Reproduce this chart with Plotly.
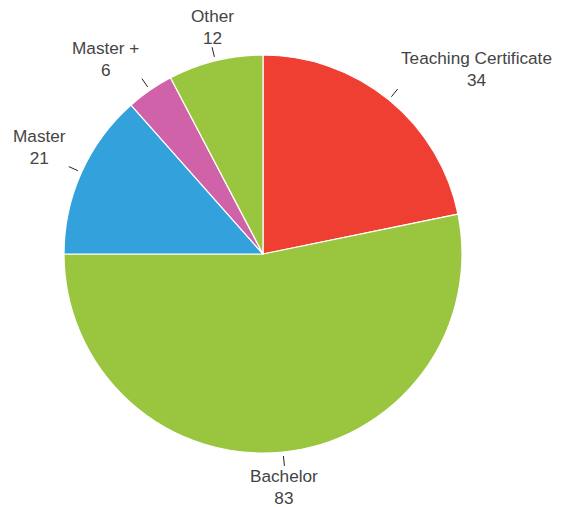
import math
import plotly.graph_objects as go

labels = ["Teaching Certificate", "Bachelor", "Master", "Master +", "Other"]
values = [34, 83, 21, 6, 12]
colors = ["#EF3F33", "#9AC63F", "#33A2DC", "#CF62A8", "#9AC63F"]

W, H = 578, 507
cx, cy, R = 263, 254, 199

fig = go.Figure(go.Pie(
    labels=labels, values=values, sort=False, direction="clockwise", rotation=0,
    marker=dict(colors=colors, line=dict(color="white", width=1.2)),
    textinfo="none", hoverinfo="label+value",
    domain=dict(x=[(cx - R) / W, (cx + R) / W], y=[1 - (cy + R) / H, 1 - (cy - R) / H]),
    showlegend=False,
))

total = sum(values)
cum = 0
shapes, annotations = [], []
for lab, v in zip(labels, values):
    mid = (cum + v / 2) / total * 2 * math.pi
    cum += v
    s, c = math.sin(mid), math.cos(mid)
    x0, y0 = cx + (R + 4) * s, cy - (R + 4) * c
    x1, y1 = cx + (R + 14) * s, cy - (R + 14) * c
    shapes.append(dict(type="line", xref="paper", yref="paper",
                       x0=x0 / W, y0=1 - y0 / H, x1=x1 / W, y1=1 - y1 / H,
                       line=dict(color="#222", width=1)))
    if abs(s) < 0.35:
        xa = "center"
    elif s > 0:
        xa = "left"
    else:
        xa = "right"
    ya = "bottom" if c > 0 else "top"
    annotations.append(dict(x=x1 / W, y=1 - y1 / H, xref="paper", yref="paper",
                            text=f"{lab}<br>{v}", showarrow=False, xanchor=xa, yanchor=ya,
                            align="center", xshift=(1 if xa == "left" else -1 if xa == "right" else 0),
                            yshift=(-3 if ya == "bottom" else 2),
                            font=dict(family="Arial, Liberation Sans, sans-serif", size=17.2, color="#444")))

fig.update_layout(width=W, height=H, margin=dict(l=0, r=0, t=0, b=0),
                  paper_bgcolor="white", plot_bgcolor="white",
                  shapes=shapes, annotations=annotations)
fig.write_html("out.html", config={"displayModeBar": False},
               post_script="document.body.style.margin='0';document.body.style.overflow='hidden';"
                           "document.documentElement.style.overflow='hidden';")
